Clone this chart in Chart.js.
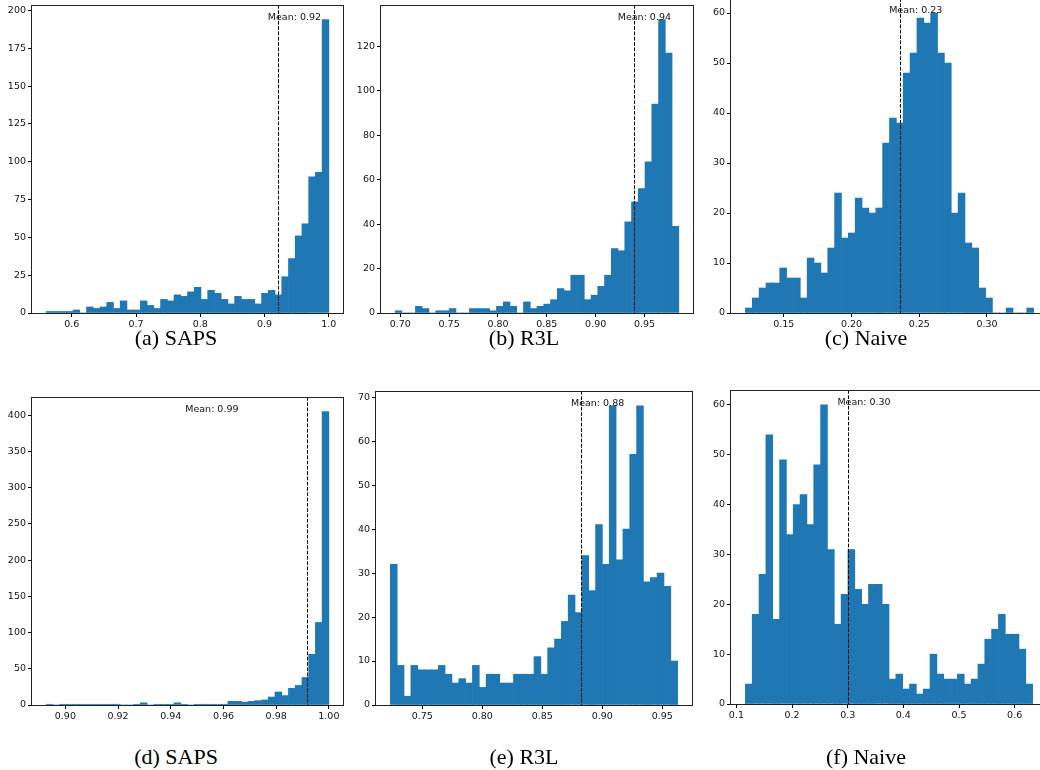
<!DOCTYPE html>
<html>
<head>
<meta charset="utf-8">
<script src="https://cdn.jsdelivr.net/npm/chart.js@4.4.0/dist/chart.umd.min.js"></script>
<style>
  html, body { margin: 0; padding: 0; background: #fff; }
  body { width: 1040px; height: 770px; position: relative; overflow: hidden; }
  .panel { position: absolute; }
  .caption {
    position: absolute; width: 200px; height: 26px; line-height: 26px;
    text-align: center; color: #000;
    font-family: "Liberation Serif", "Times New Roman", serif; font-size: 22px;
  }
</style>
</head>
<body>
<script>
// --- histogram counts (42 bins each) ---
const countsA = [1,1,1,1,2,0,4,3,4,7,3,8,2,2,8,5,3,9,8,12,11,14,17,9,15,13,9,6,11,9,9,6,13,15,12,24,36,51,59,90,93,194];
const countsB = [1,0,0,3,2,0,1,1,2,0,0,2,2,2,1,3,5,3,0,5,2,3,4,6,11,10,17,17,6,8,12,17,29,28,41,50,56,68,94,132,117,39];
const countsC = [1,3,5,6,6,9,7,7,3,11,10,8,13,24,15,16,23,21,20,21,34,39,38,48,52,59,58,60,52,50,20,24,14,13,5,3,0,0,1,0,0,1];
const countsD = [1,0,1,1,1,1,1,1,1,1,1,0,0,1,3,0,1,1,1,3,1,0,1,1,1,1,1,5,5,4,5,6,7,11,18,13,23,27,38,70,114,405];
const countsE = [32,9,2,9,8,8,8,9,7,5,6,5,9,4,7,7,5,5,7,7,7,11,7,13,15,19,25,21,34,26,41,32,68,33,40,57,68,28,29,30,27,10];
const countsF = [4,18,26,54,17,49,34,40,42,36,48,60,31,16,22,31,23,20,24,24,20,5,6,3,4,2,3,10,6,5,5,6,4,5,8,13,15,18,14,14,11,4];

// bin range of each histogram (first / last edge)
const binLo = [0.5602, 0.6948, 0.1217, 0.8927, 0.7234, 0.1161];
const binHi = [1.0, 0.9851, 0.3344, 1.0, 0.9628, 0.6323];

// mean lines and their labels
const means = [0.9206, 0.9394, 0.2358, 0.9917, 0.8822, 0.300];
const meanLabels = ['Mean: 0.92', 'Mean: 0.94', 'Mean: 0.23', 'Mean: 0.99', 'Mean: 0.88', 'Mean: 0.30'];
const meanLabelX = [0.905, 0.9226, 0.2278, 0.9455, 0.8739, 0.2815];

// tick labels
const xTicks = [
  ['0.6', '0.7', '0.8', '0.9', '1.0'],
  ['0.70', '0.75', '0.80', '0.85', '0.90', '0.95'],
  ['0.15', '0.20', '0.25', '0.30'],
  ['0.90', '0.92', '0.94', '0.96', '0.98', '1.00'],
  ['0.75', '0.80', '0.85', '0.90', '0.95'],
  ['0.1', '0.2', '0.3', '0.4', '0.5', '0.6']
];
const yTicks = [
  ['0', '25', '50', '75', '100', '125', '150', '175', '200'],
  ['0', '20', '40', '60', '80', '100', '120'],
  ['0', '10', '20', '30', '40', '50', '60'],
  ['0', '50', '100', '150', '200', '250', '300', '350', '400'],
  ['0', '10', '20', '30', '40', '50', '60', '70'],
  ['0', '10', '20', '30', '40', '50', '60']
];
const captions = ['(a) SAPS', '(b) R3L', '(c) Naive', '(d) SAPS', '(e) R3L', '(f) Naive'];

const allCounts = [countsA, countsB, countsC, countsD, countsE, countsF];

// plot boxes on the page: left, top, right, bottom
const boxes = [
  [32.3, 4.7, 343.4, 313.3],
  [380.9, 5.3, 692.5, 313.3],
  [730.6, -1.7, 1047.7, 313.3],
  [32.4, 396.5, 343.4, 705],
  [375.6, 390.5, 692, 705],
  [730.6, 390, 1047, 704]
];
const captionPos = [[176, 338], [524, 338], [866, 338], [176, 757], [524, 757], [866, 757]];

const PADL = 50, PADT = 12, PADR = 12, PADB = 30;
const BLUE = '#1f77b4';
const TICKFONT = { family: '"DejaVu Sans", sans-serif', size: 9.5 };

const meanPlugin = {
  id: 'meanLine',
  afterDatasetsDraw(chart, args, opts) {
    const { ctx, chartArea: a, scales: { x, y } } = chart;
    ctx.save();
    // dashed mean line
    const mx = Math.round(x.getPixelForValue(opts.mean)) + 0.5;
    ctx.strokeStyle = '#000';
    ctx.lineWidth = 1;
    ctx.setLineDash([3.7, 1.6]);
    ctx.beginPath();
    ctx.moveTo(mx, a.top);
    ctx.lineTo(mx, a.bottom);
    ctx.stroke();
    ctx.setLineDash([]);
    // label
    ctx.fillStyle = '#111';
    ctx.font = '9.5px "DejaVu Sans", sans-serif';
    ctx.textAlign = 'left';
    ctx.textBaseline = 'alphabetic';
    ctx.fillText(opts.label, x.getPixelForValue(opts.labelX), y.getPixelForValue(opts.labelY));
    // frame
    ctx.strokeStyle = '#222';
    const l = Math.round(a.left) - 0.5, t = Math.round(a.top) + 0.5;
    const r = Math.round(a.right) + 0.5, b = Math.round(a.bottom) + 0.5;
    ctx.strokeRect(l, t, r - l, b - t);
    ctx.restore();
  }
};

function makePanel(i) {
  const [l, t, r, b] = boxes[i];
  const div = document.createElement('div');
  div.className = 'panel';
  const left = Math.round(l) - PADL, top = Math.round(t) - PADT;
  const w = Math.round(r) - Math.round(l) + PADL + PADR;
  const h = Math.round(b) - Math.round(t) + PADT + PADB;
  div.style.left = left + 'px';
  div.style.top = top + 'px';
  div.style.width = w + 'px';
  div.style.height = h + 'px';
  const canvas = document.createElement('canvas');
  div.appendChild(canvas);
  document.body.appendChild(div);

  const counts = allCounts[i];
  const lo = binLo[i], hi = binHi[i];
  const bw = (hi - lo) / counts.length;
  const points = counts.map((c, k) => ({ x: lo + (k + 0.5) * bw, y: c }));
  const span = hi - lo;
  const maxCount = Math.max(...counts);

  const xt = xTicks[i], yt = yTicks[i];

  new Chart(canvas, {
    type: 'bar',
    data: {
      datasets: [{
        data: points,
        backgroundColor: BLUE,
        borderWidth: 0,
        barPercentage: 1,
        categoryPercentage: 1
      }]
    },
    options: {
      responsive: true,
      maintainAspectRatio: false,
      animation: false,
      devicePixelRatio: 1,
      layout: { padding: { left: 0, top: PADT, right: PADR, bottom: 0 } },
      scales: {
        x: {
          type: 'linear',
          offset: false,
          min: lo - 0.05 * span,
          max: hi + 0.05 * span,
          afterBuildTicks: s => { s.ticks = xt.map(v => ({ value: parseFloat(v) })); },
          afterFit: s => { s.height = PADB; },
          grid: { display: true, drawOnChartArea: false, drawTicks: true, tickLength: 4, color: '#000', offset: false },
          border: { display: false },
          ticks: {
            callback: (v, k) => xt[k],
            font: TICKFONT, color: '#111', padding: 2, maxRotation: 0, autoSkip: false
          }
        },
        y: {
          type: 'linear',
          min: 0,
          max: maxCount * 1.05,
          afterBuildTicks: s => { s.ticks = yt.map(v => ({ value: parseFloat(v) })); },
          afterFit: s => { s.width = PADL; },
          grid: { display: true, drawOnChartArea: false, drawTicks: true, tickLength: 4, color: '#000' },
          border: { display: false },
          ticks: {
            callback: (v, k) => yt[k],
            font: TICKFONT, color: '#111', padding: 2, autoSkip: false
          }
        }
      },
      plugins: {
        legend: { display: false },
        tooltip: { enabled: false },
        meanLine: { mean: means[i], label: meanLabels[i], labelX: meanLabelX[i], labelY: maxCount }
      }
    },
    plugins: [meanPlugin]
  });

  const cap = document.createElement('div');
  cap.className = 'caption';
  cap.textContent = captions[i];
  cap.style.left = (captionPos[i][0] - 100) + 'px';
  cap.style.top = (captionPos[i][1] - 13) + 'px';
  document.body.appendChild(cap);
}

for (let i = 0; i < 6; i++) makePanel(i);
</script>
</body>
</html>
